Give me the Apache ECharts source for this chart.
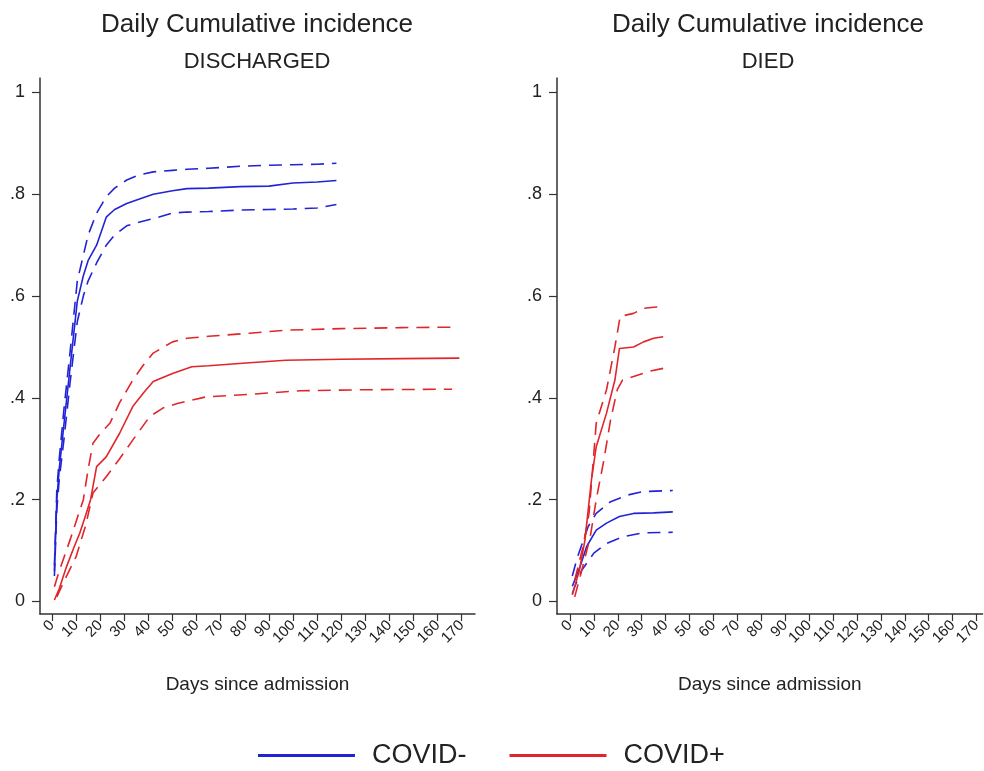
<!DOCTYPE html>
<html>
<head>
<meta charset="utf-8">
<script src="https://cdn.jsdelivr.net/npm/echarts@6/dist/echarts.min.js"></script>
<style>
html,body{margin:0;padding:0;background:#fff;}
#chart{width:984px;height:771px;}
</style>
</head>
<body>
<div id="chart"></div>
<script>
// ---- tick labels ----
const xTicks = [0,10,20,30,40,50,60,70,80,90,100,110,120,130,140,150,160,170];
const yTicks = [0,0.2,0.4,0.6,0.8,1];
const legendNames = ['COVID-','COVID+'];
const panelTitles = ['DISCHARGED','DIED'];

// ---- DISCHARGED, COVID- (blue) ----
const dischNegEstDays = [1,2,3,5,7.5,10.5,13,15,18.5,22.5,26,31,36,42,50,56,65,78,90,100,110,118];
const dischNegEst     = [0.06,0.2,0.26,0.35,0.46,0.59,0.64,0.67,0.70,0.755,0.77,0.782,0.79,0.80,0.807,0.811,0.812,0.815,0.816,0.822,0.824,0.827];
const dischNegHi      = [0.07,0.22,0.28,0.38,0.49,0.63,0.68,0.72,0.763,0.795,0.812,0.828,0.838,0.844,0.847,0.849,0.851,0.855,0.857,0.858,0.859,0.861];
const dischNegLo      = [0.05,0.18,0.24,0.32,0.43,0.55,0.60,0.63,0.665,0.70,0.72,0.738,0.745,0.752,0.763,0.765,0.766,0.769,0.770,0.771,0.773,0.780];

// ---- DISCHARGED, COVID+ (red) ----
const dischPosEstDays = [1,3,6,9,11.5,14,16,18.5,22.5,28,33.5,38,42,50,58,65,82,97,120,145,169];
const dischPosEst     = [0.003,0.025,0.068,0.105,0.134,0.17,0.2,0.265,0.284,0.33,0.383,0.41,0.432,0.448,0.461,0.463,0.469,0.474,0.476,0.477,0.478];
const dischPosHiDays  = [1,3,7.5,13,15,17,20,24,28,33.5,38,42,50,56,65,82,97,120,145,168];
const dischPosHi      = [0.029,0.06,0.121,0.2,0.26,0.311,0.33,0.35,0.39,0.435,0.465,0.488,0.51,0.517,0.521,0.527,0.533,0.536,0.538,0.539];
const dischPosLoDays  = [2,5,10,14,17,19,22.5,28,33.5,40.5,46,52,64,82,103,130,166];
const dischPosLo      = [0.009,0.04,0.088,0.15,0.213,0.225,0.245,0.28,0.317,0.363,0.38,0.389,0.402,0.407,0.414,0.416,0.417];

// ---- DIED, COVID+ (red) ----
const diedPosEstDays = [1,4,6.3,9,11,15.3,18.8,20.7,26.6,30.8,35,39];
const diedPosEst     = [0.013,0.062,0.121,0.239,0.304,0.37,0.435,0.497,0.50,0.51,0.517,0.52];
const diedPosHiDays  = [2,5.5,8,11,15.3,18.8,21,26.6,30.8,35,39];
const diedPosHi      = [0.042,0.108,0.173,0.35,0.416,0.5,0.56,0.566,0.576,0.578,0.579];
const diedPosLoDays  = [2,5,8.5,11,14.2,17,19.8,22,26.6,33,39];
const diedPosLo      = [0.009,0.062,0.127,0.2,0.278,0.357,0.416,0.435,0.442,0.452,0.458];

// ---- DIED, COVID- (blue) ----
const diedNegEstDays = [1,4.2,7,11,15.3,20.7,26.6,35,43];
const diedNegEst     = [0.03,0.068,0.108,0.14,0.154,0.167,0.173,0.174,0.176];
const diedNegHiDays  = [1,3,7.6,11,17,24,30.8,43];
const diedNegHi      = [0.05,0.085,0.147,0.173,0.196,0.209,0.216,0.218];
const diedNegLoDays  = [1,2,5,10,15.3,22,30.8,43];
const diedNegLo      = [0.015,0.029,0.062,0.095,0.114,0.127,0.135,0.136];

const BLUE = '#2323d6';
const RED = '#e0262b';
const FONT = 'Arial, "Liberation Sans", sans-serif';
const TXT = '#222';
const DASH = [13, 8];

function pts(days, vals){ return days.map((d,i)=>[d, vals[i]]); }

function line(name, panel, data, color, dashed){
  return {
    name: name, type: 'line', xAxisIndex: panel, yAxisIndex: panel,
    data: data, showSymbol: false, symbol: 'none', smooth: false,
    color: color,
    lineStyle: {color: color, width: 1.6, type: dashed ? DASH : 'solid'},
    animation: false, silent: true
  };
}

function xAxis(gi, min, max){
  return {
    type: 'value', gridIndex: gi, min: min, max: max,
    splitLine: {show: false},
    axisLine: {show: true, onZero: false, lineStyle: {color: '#333', width: 1.5}},
    axisTick: {show: true, length: 7, customValues: xTicks, lineStyle: {color: '#333', width: 1.2}},
    axisLabel: {customValues: xTicks, rotate: 45, margin: 9, fontSize: 15, color: TXT, fontFamily: FONT},
    name: 'Days since admission', nameLocation: 'middle', nameGap: 61,
    nameTextStyle: {fontSize: 19, color: TXT, fontFamily: FONT}
  };
}
function yAxis(gi){
  return {
    type: 'value', gridIndex: gi, min: -0.0246, max: 1.0284,
    splitLine: {show: false},
    axisLine: {show: true, onZero: false, lineStyle: {color: '#333', width: 1.5}},
    axisTick: {show: true, length: 8, customValues: yTicks, lineStyle: {color: '#333', width: 1.2}},
    axisLabel: {customValues: yTicks, margin: 15, fontSize: 18, color: TXT, fontFamily: FONT,
      formatter: v => (v === 0 ? '0' : v === 1 ? '1' : v.toFixed(1).replace(/^0/, ''))}
  };
}

const chart = echarts.init(document.getElementById('chart'), null, {renderer: 'canvas'});
chart.setOption({
  backgroundColor: '#fff',
  animation: false,
  title: [
    {text: 'Daily Cumulative incidence', left: 257, textAlign: 'center', top: 12, padding: 0,
     textStyle: {fontSize: 26, fontWeight: 'normal', color: TXT, fontFamily: FONT}},
    {text: panelTitles[0], left: 257, textAlign: 'center', top: 51, padding: 0,
     textStyle: {fontSize: 22, fontWeight: 'normal', color: TXT, fontFamily: FONT}},
    {text: 'Daily Cumulative incidence', left: 768, textAlign: 'center', top: 12, padding: 0,
     textStyle: {fontSize: 26, fontWeight: 'normal', color: TXT, fontFamily: FONT}},
    {text: panelTitles[1], left: 768, textAlign: 'center', top: 51, padding: 0,
     textStyle: {fontSize: 22, fontWeight: 'normal', color: TXT, fontFamily: FONT}}
  ],
  legend: {
    data: legendNames, left: 258, top: 742, padding: 0,
    icon: 'rect', itemWidth: 97, itemHeight: 3, itemGap: 43,
    textStyle: {fontSize: 27, color: TXT, fontFamily: FONT, padding: [0, 0, 0, 12]},
    selectedMode: false
  },
  grid: [
    {left: 40, top: 78, width: 435, height: 536},
    {left: 557, top: 78, width: 427, height: 536}
  ],
  xAxis: [xAxis(0, -4.98, 175.5), xAxis(1, -5.4, 172.5)],
  yAxis: [yAxis(0), yAxis(1)],
  series: [
    line('COVID+', 0, pts(dischPosEstDays, dischPosEst), RED, false),
    line('COVID+ upper CI (discharged)', 0, pts(dischPosHiDays, dischPosHi), RED, true),
    line('COVID+ lower CI (discharged)', 0, pts(dischPosLoDays, dischPosLo), RED, true),
    line('COVID-', 0, pts(dischNegEstDays, dischNegEst), BLUE, false),
    line('COVID- upper CI (discharged)', 0, pts(dischNegEstDays, dischNegHi), BLUE, true),
    line('COVID- lower CI (discharged)', 0, pts(dischNegEstDays, dischNegLo), BLUE, true),
    line('COVID- ', 1, pts(diedNegEstDays, diedNegEst), BLUE, false),
    line('COVID- upper CI (died)', 1, pts(diedNegHiDays, diedNegHi), BLUE, true),
    line('COVID- lower CI (died)', 1, pts(diedNegLoDays, diedNegLo), BLUE, true),
    line('COVID+ ', 1, pts(diedPosEstDays, diedPosEst), RED, false),
    line('COVID+ upper CI (died)', 1, pts(diedPosHiDays, diedPosHi), RED, true),
    line('COVID+ lower CI (died)', 1, pts(diedPosLoDays, diedPosLo), RED, true)
  ]
});
</script>
</body>
</html>
